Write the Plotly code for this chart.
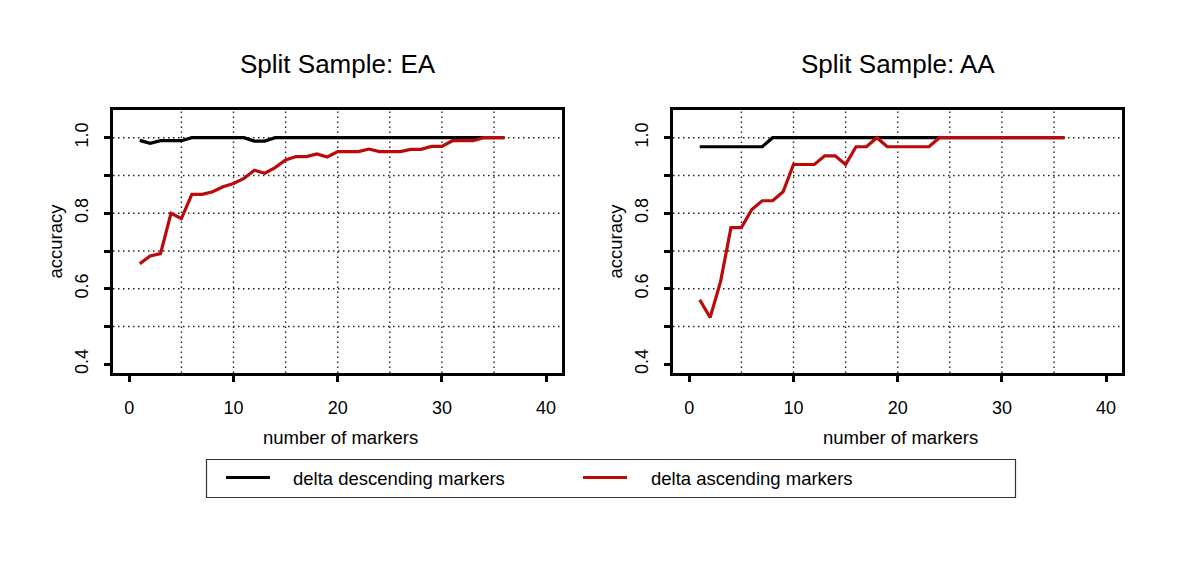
import plotly.graph_objects as go

# ---------------- data ----------------
markers = list(range(1, 37))

ea_descending = [0.993, 0.985, 0.992, 0.992, 0.992, 1.0, 1.0, 1.0, 1.0, 1.0,
                 1.0, 0.991, 0.991, 1.0, 1.0, 1.0, 1.0, 1.0, 1.0, 1.0,
                 1.0, 1.0, 1.0, 1.0, 1.0, 1.0, 1.0, 1.0, 1.0, 1.0,
                 1.0, 1.0, 1.0, 1.0, 1.0, 1.0]
ea_ascending = [0.666, 0.687, 0.693, 0.800, 0.786, 0.850, 0.850, 0.857, 0.870, 0.879,
                0.892, 0.914, 0.906, 0.921, 0.941, 0.950, 0.950, 0.957, 0.949, 0.963,
                0.963, 0.963, 0.970, 0.963, 0.963, 0.963, 0.969, 0.969, 0.977, 0.977,
                0.992, 0.992, 0.992, 1.0, 1.0, 1.0]

aa_descending = [0.976, 0.976, 0.976, 0.976, 0.976, 0.976, 0.976, 1.0, 1.0, 1.0,
                 1.0, 1.0, 1.0, 1.0, 1.0, 1.0, 1.0, 1.0, 1.0, 1.0,
                 1.0, 1.0, 1.0, 1.0, 1.0, 1.0, 1.0, 1.0, 1.0, 1.0,
                 1.0, 1.0, 1.0, 1.0, 1.0, 1.0]
aa_ascending = [0.571, 0.524, 0.619, 0.762, 0.762, 0.810, 0.833, 0.833, 0.857, 0.929,
                0.929, 0.929, 0.952, 0.952, 0.929, 0.976, 0.976, 1.0, 0.976, 0.976,
                0.976, 0.976, 0.976, 1.0, 1.0, 1.0, 1.0, 1.0, 1.0, 1.0,
                1.0, 1.0, 1.0, 1.0, 1.0, 1.0]

panel_titles = ["Split Sample: EA", "Split Sample: AA"]
series_names = ["delta descending markers", "delta ascending markers"]
x_label = "number of markers"
y_label = "accuracy"

x_tickvals = [0, 10, 20, 30, 40]
y_tickvals = [0.4, 0.5, 0.6, 0.7, 0.8, 0.9, 1.0]
y_ticktext = ["0.4", "", "0.6", "", "0.8", "", "1.0"]
x_grid = [5, 10, 15, 20, 25, 30, 35]
y_grid = [0.5, 0.6, 0.7, 0.8, 0.9, 1.0]

# ---------------- style ----------------
OFF = 8  # page body margin
W, H = 1200 - OFF, 586 - OFF
BLACK = "#000000"
RED = "#BA0A0A"
FONT = "Liberation Sans, Arial, sans-serif"


def px(x):
    return (x - OFF) / W


def py(y):
    return 1 - (y - OFF) / H


fig = go.Figure()

panels = [
    dict(desc=ea_descending, asc=ea_ascending, xa="x", ya="y",
         dom=(113, 562), title=panel_titles[0]),
    dict(desc=aa_descending, asc=aa_ascending, xa="x2", ya="y2",
         dom=(673, 1122), title=panel_titles[1]),
]

top_px, bot_px = 110, 373
shapes = []
annotations = []

for i, p in enumerate(panels):
    fig.add_trace(go.Scatter(x=markers, y=p["desc"], mode="lines",
                             line=dict(color=BLACK, width=3.2),
                             xaxis=p["xa"], yaxis=p["ya"], showlegend=False,
                             name=series_names[0]))
    fig.add_trace(go.Scatter(x=markers, y=p["asc"], mode="lines",
                             line=dict(color=RED, width=3.2),
                             xaxis=p["xa"], yaxis=p["ya"], showlegend=False,
                             name=series_names[1]))
    # data->pixel scale: 0 at dom[0]+16.3, 10.42 px per unit
    x0px = p["dom"][0] + 16.3
    xr = [(p["dom"][0] - x0px) / 10.42, (p["dom"][1] - x0px) / 10.42]
    yr = [0.4 - (bot_px - 364.3) / 377.67, 1.0 + (137.7 - top_px) / 377.67]
    suffix = "" if i == 0 else "2"
    axis_common = dict(showline=True, linewidth=3, linecolor=BLACK, mirror=True,
                       ticks="outside", ticklen=6, tickwidth=2.5, tickcolor=BLACK,
                       showgrid=False, zeroline=False,
                       tickfont=dict(family=FONT, size=18, color=BLACK))
    fig.update_layout(**{
        "xaxis" + suffix: dict(domain=[px(p["dom"][0]), px(p["dom"][1])], range=xr,
                               tickvals=x_tickvals, anchor="y" + suffix,
                               ticklabelstandoff=10, **axis_common),
        "yaxis" + suffix: dict(domain=[py(bot_px), py(top_px)], range=yr,
                               tickvals=y_tickvals, ticktext=y_ticktext,
                               tickangle=-90, anchor="x" + suffix,
                               ticklabelstandoff=9, **axis_common),
    })
    xref = p["xa"]
    yref = p["ya"]
    for gx in x_grid:
        shapes.append(dict(type="line", xref=xref, yref=yref + " domain",
                           x0=gx, x1=gx, y0=0, y1=1, layer="below",
                           line=dict(color="#222222", width=1.4, dash="1.5px,3.5px")))
    for gy in y_grid:
        shapes.append(dict(type="line", xref=xref + " domain", yref=yref,
                           x0=0, x1=1, y0=gy, y1=gy, layer="below",
                           line=dict(color="#222222", width=1.4, dash="1.5px,3.5px")))
    cx = (p["dom"][0] + p["dom"][1]) / 2
    annotations.append(dict(text=p["title"], x=px(cx), y=py(64), xref="paper", yref="paper",
                            xanchor="center", yanchor="middle", showarrow=False,
                            font=dict(family=FONT, size=26, color=BLACK)))
    annotations.append(dict(text=x_label, x=px(cx + 3), y=py(437), xref="paper", yref="paper",
                            xanchor="center", yanchor="middle", showarrow=False,
                            font=dict(family=FONT, size=18.5, color=BLACK)))
    annotations.append(dict(text=y_label, x=px(p["dom"][0] - 58), y=py((top_px + bot_px) / 2),
                            xref="paper", yref="paper", textangle=-90,
                            xanchor="center", yanchor="middle", showarrow=False,
                            font=dict(family=FONT, size=18.5, color=BLACK)))

# ---------------- legend (drawn as a boxed key) ----------------
shapes.append(dict(type="rect", xref="paper", yref="paper",
                   x0=px(206.5), x1=px(1015.5), y0=py(497.5), y1=py(459.5),
                   line=dict(color="#333333", width=1.2), fillcolor="rgba(0,0,0,0)"))
legend_items = [(series_names[0], BLACK, 226, 290.5), (series_names[1], RED, 583, 648.5)]
for name, col, lx, tx in legend_items:
    shapes.append(dict(type="line", xref="paper", yref="paper",
                       x0=px(lx), x1=px(lx + 44), y0=py(477.5), y1=py(477.5),
                       line=dict(color=col, width=3)))
    annotations.append(dict(text=name, x=px(tx), y=py(478), xref="paper", yref="paper",
                            xanchor="left", yanchor="middle", showarrow=False,
                            font=dict(family=FONT, size=18.5, color=BLACK)))

fig.update_layout(width=W, height=H, margin=dict(l=0, r=0, t=0, b=0),
                  paper_bgcolor="white", plot_bgcolor="white",
                  showlegend=False, shapes=shapes, annotations=annotations,
                  font=dict(family=FONT, color=BLACK))

fig.write_html("out.html")
